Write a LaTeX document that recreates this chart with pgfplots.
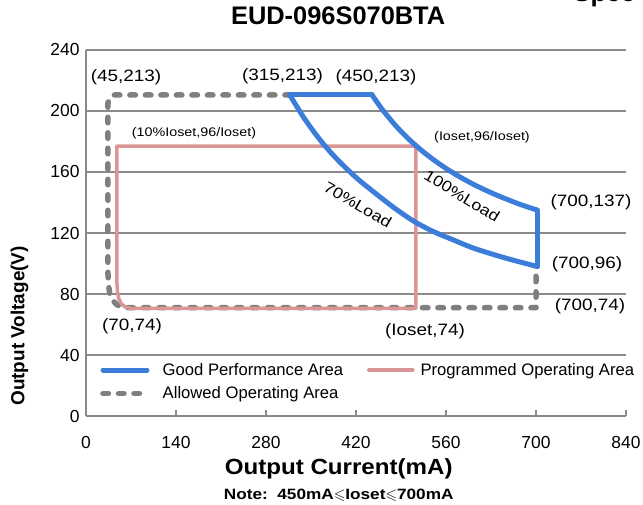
\documentclass[border=0pt]{standalone}
\usepackage{fontspec}
\setmainfont{Liberation Sans}
\newfontfamily\sfx{Liberation Sans}[FakeStretch=1.15]
\newfontfamily\sfl{Liberation Sans}[FakeStretch=1.1]
\usepackage{amssymb}
\usepackage{pgfplots}
\pgfplotsset{compat=1.18}
\definecolor{perfblue}{HTML}{3B7DD8}
\definecolor{progpink}{HTML}{DA9694}
\definecolor{allowgray}{HTML}{7F7F7F}
\definecolor{gridgray}{HTML}{8A8A8A}
\begin{document}
\begin{tikzpicture}
\begin{axis}[
  scale only axis, width=540bp, height=366bp,
  xmin=0, xmax=840, ymin=0, ymax=240,
  xtick={0,140,280,420,560,700,840},
  ytick={0,40,80,120,160,200,240},
  axis x line*=bottom, axis y line*=left,
  axis line style={draw=gridgray, line width=2.5bp},
  ymajorgrids, grid style={draw=gridgray, line width=2bp},
  xtick align=inside, major tick length=6.5bp,
  major x tick style={draw=gridgray, line width=2bp},
  ytick style={draw=none},
  tick label style={font=\fontsize{17.5}{21}\selectfont},
  /pgf/number format/assume math mode=true,
  xticklabel style={yshift=-16.5bp},
  yticklabel style={xshift=-3bp},
  clip=false,
  title={EUD-096S070BTA},
  title style={at={(axis description cs:0.467,1.0765)}, anchor=center, font=\bfseries\fontsize{25.5}{30}\selectfont},
  xlabel={Output Current(mA)},
  xlabel style={at={(axis description cs:0.468,-0.161)}, anchor=base, font=\sfl\bfseries\fontsize{22}{26}\selectfont},
  ylabel={Output Voltage(V)},
  ylabel style={at={(axis description cs:-0.114,0.246)}, anchor=base, font=\bfseries\fontsize{19}{23}\selectfont},
  legend columns=2,
  legend cell align=left,
  legend style={at={(axis description cs:0.026,0.150)}, anchor=north west, draw=none, fill=none,
    font=\fontsize{16.7}{20}\selectfont, inner sep=0pt, row sep=6bp,
    /tikz/every odd column/.append style={column sep=11bp},
    /tikz/every even column/.append style={column sep=22bp}},
  legend image code/.code={\draw[#1] (0bp,0bp) -- (44bp,0bp);},
]
\addlegendimage{perfblue, line width=5bp, line cap=round}
\addlegendentry{Good Performance Area}
\addlegendimage{progpink, line width=3.5bp, line cap=round}
\addlegendentry{\hspace*{-7bp}Programmed Operating Area}
\addlegendimage{allowgray, line width=5.5bp, line cap=round, dash pattern=on 5.5bp off 10bp}
\addlegendentry{Allowed Operating Area}

% Allowed operating area (dashed)
\addplot[allowgray, line width=5.5bp, line cap=round, line join=round, dash pattern=on 5.5bp off 10bp, forget plot]
coordinates {(318,210.5) (44,210.5) (37,209) (34,205) (34,95) (35,86) (37,80) (41,76) (48,73) (58,71.2) (68,71) (700,71) (700,98)};

% Programmed operating area
\addplot[progpink, line width=3.5bp, line join=round, forget plot]
coordinates {(300,70.5) (513,70.5) (513,177) (48,177) (48,88) (49,81) (51,77) (55,73.5) (61,71.5) (70,70.5) (300,70.5)};

% Good performance area
\addplot[perfblue, line width=5bp, line cap=round, line join=round, forget plot]
coordinates {(317,210.5) (445,210.5)};
\addplot[perfblue, line width=5bp, line cap=round, line join=round, smooth, forget plot]
coordinates {(445,210.5) (460,201.5) (480,191.2) (500,182.4) (525,173.1) (550,165.2) (575,158.4) (600,152.5) (625,147.4) (650,142.9) (675,138.8) (702,135)};
\addplot[perfblue, line width=5bp, line cap=round, line join=round, forget plot]
coordinates {(702,135) (702,98)};
\addplot[perfblue, line width=5bp, line cap=round, line join=round, smooth, forget plot]
coordinates {(317,210.5) (340,194.9) (365,180.6) (390,168.6) (420,156.4) (450,146.1) (480,136.3) (510,127.7) (540,121) (570,115.7) (600,110.5) (630,106.4) (660,102.7) (702,98)};

% annotations
\node[font=\sfx\fontsize{16.5}{20}\selectfont] at (axis cs:62.2,222) {(45,213)};
\node[font=\sfx\fontsize{16.5}{20}\selectfont] at (axis cs:305.7,223.1) {(315,213)};
\node[font=\sfx\fontsize{16.5}{20}\selectfont] at (axis cs:451.1,222.3) {(450,213)};
\node[font=\sfx\fontsize{12.5}{15}\selectfont] at (axis cs:616,183) {(Ioset,96/Ioset)};
\node[font=\sfx\fontsize{12.5}{15}\selectfont] at (axis cs:168,185.6) {(10\%Ioset,96/Ioset)};
\node[rotate=-30, font=\sfx\fontsize{15.5}{18}\selectfont] at (axis cs:423,138.4) {70\%Load};
\node[rotate=-31, font=\sfx\fontsize{15.5}{18}\selectfont] at (axis cs:585,144.3) {100\%Load};
\node[font=\sfx\fontsize{16.5}{20}\selectfont] at (axis cs:785.6,140.3) {(700,137)};
\node[font=\sfx\fontsize{16.5}{20}\selectfont] at (axis cs:779.3,99.7) {(700,96)};
\node[font=\sfx\fontsize{16.5}{20}\selectfont] at (axis cs:784,72.1) {(700,74)};
\node[font=\sfx\fontsize{16.5}{20}\selectfont] at (axis cs:71.6,58.7) {(70,74)};
\node[font=\sfx\fontsize{16.5}{20}\selectfont] at (axis cs:527.3,55.4) {(Ioset,74)};
\node[anchor=base, font=\sfx\bfseries\fontsize{15}{18}\selectfont] at (axis description cs:0.468,-0.227) {Note:\ \ 450mA$\leqslant$Ioset$\leqslant$700mA};
\node[anchor=base west, font=\bfseries\fontsize{26}{30}\selectfont] at (axis description cs:0.896,1.1325) {Spec};
\coordinate (bl) at (rel axis cs:0,0);
\end{axis}
\pgfresetboundingbox
\path[use as bounding box] (bl) ++(-86bp,-89bp) rectangle ++(643bp,505bp);
\end{tikzpicture}
\end{document}
